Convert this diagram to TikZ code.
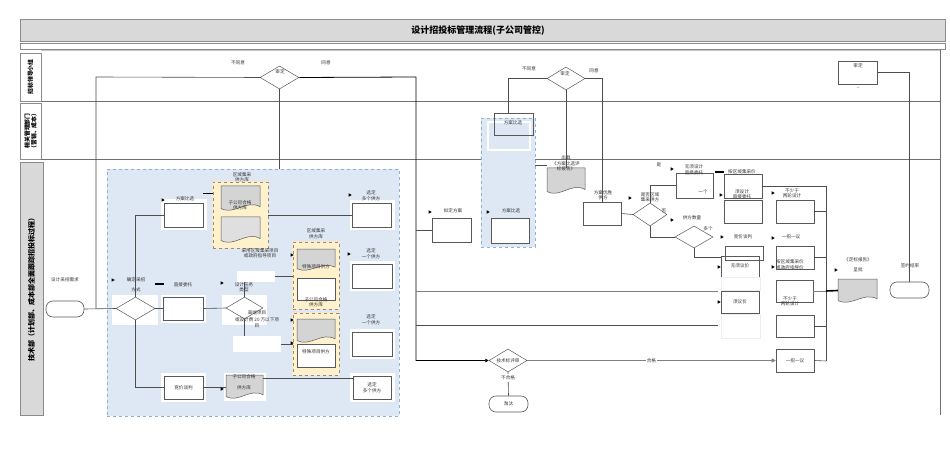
\documentclass[tikz,border=0pt]{standalone}
\usepackage{fontspec}
\newfontfamily\cjk{Noto Sans CJK SC}
\usetikzlibrary{calc,arrows.meta,shapes.geometric}
\definecolor{lanegray}{HTML}{D9D9D9}
\definecolor{framegray}{HTML}{8C8C8C}
\definecolor{blueA}{HTML}{DEE8F4}
\definecolor{blueB}{HTML}{8EAFD6}
\definecolor{yelA}{HTML}{FFF1CC}
\definecolor{docgray}{HTML}{D4D4D4}
\definecolor{lnc}{HTML}{4D4D4D}
\definecolor{boxc}{HTML}{595959}
\tikzset{
 conn/.style={draw=lnc, line width=0.6pt},
 boxst/.style={draw=boxc, line width=0.6pt, fill=white, inner sep=0, font=\cjk\fontsize{4.6}{5.5}\selectfont, align=center, text=black!80},
 lbl/.style={font=\cjk\fontsize{4.6}{5.5}\selectfont, inner sep=0, text=black!80, align=center},
 dia/.style={diamond, draw=boxc, line width=0.5pt, fill=white, inner sep=0},
 term/.style={draw=boxc, line width=0.6pt, fill=white, rounded corners=7pt, inner sep=0, font=\cjk\fontsize{4.6}{5.5}\selectfont, text=black!80},
 halo/.style={fill=white, draw=none, inner sep=0},
 bluearea/.style={draw=blueB, dashed, fill=blueA, line width=0.7pt, inner sep=0},
 grp/.style={draw=framegray, dashed, fill=yelA, line width=0.6pt, inner sep=0, preaction={draw=yelA!80!orange!70, line width=2.2pt, solid}},
 lanecell/.style={draw=framegray, fill=white, line width=0.6pt, inner sep=0},
 lanetxt/.style={font=\cjk\bfseries\fontsize{5.8}{6.8}\selectfont, inner sep=0, align=center, rotate=90},
 lanel/.style={draw=framegray!80!black, line width=0.6pt},
 lightbox/.style={draw=blueA!70, fill=white, line width=0.5pt, inner sep=0},
 blk/.style={fill=black, inner sep=0, minimum width=9, minimum height=1.8},
 mk/.pic={\fill[black] (-1.3,-1.7) -- (1.7,0) -- (-1.3,1.7) -- cycle;},
}
\newcommand\rnode[7][]{\node[#1, minimum width={#4-#2}, minimum height={#5-#3}] (#6) at ({(#2+#4)/2},{(#3+#5)/2}) {#7};}
\newcommand\docsh[6]{%
 \node[inner sep=0, minimum width={#4-#2}, minimum height={#5-#3}] (#1) at ({(#2+#4)/2},{(#3+#5)/2}) {};
 \filldraw[draw=boxc, line width=0.5pt, fill=#6] (#2,#3) -- (#4,#3) -- (#4,{#5-0.14*(#5-#3)}) .. controls ({#4-0.35*(#4-#2)},{#5-0.45*(#5-#3)}) and ({#2+0.35*(#4-#2)},{#5+0.22*(#5-#3)}) .. (#2,{#5-0.06*(#5-#3)}) -- cycle;}
\begin{document}
\begin{tikzpicture}[x=1pt,y=-1pt]
\useasboundingbox (0,0) rectangle (950,457);
\fill[white] (0,0) rectangle (950,457);
% ---------- frame ----------
\rnode[draw=framegray, fill=lanegray, line width=0.6pt, inner sep=0]{20}{19}{945}{41}{titlebar}{}
\node[font=\cjk\bfseries\fontsize{9}{10}\selectfont, inner sep=0] (title) at (478,30.5) {设计招投标管理流程(子公司管控)};
\rnode[draw=framegray, line width=0.5pt, inner sep=0]{20}{43}{945}{49}{subbar}{}
\rnode[lanecell]{20}{53}{41}{101}{c1}{}
\rnode[lanecell]{20}{103}{41}{159}{c2}{}
\rnode[lanecell, fill=lanegray]{20}{162}{43}{415}{c3}{}
\node[lanetxt] (c1t) at (c1) {招标领导小组};
\node[lanetxt] (c2t) at (c2) {相关管理部门\\（营销、成本）};
\node[lanetxt, font=\cjk\bfseries\fontsize{7}{8}\selectfont] (c3t) at (31.5,288) {技术部（计划部、成本部全面跟踪招投标过程）};
\draw[lanel, draw=framegray!50] (41,50) -- (940,50);
\draw[lanel] (41,101) -- (940,101);
\draw[lanel] (41,159) -- (940,159);
\draw[lanel] (940,50) -- (940,415);
% ---------- areas ----------
\rnode[bluearea]{107}{169}{399}{416}{ba1}{}
\rnode[bluearea]{481}{118}{535}{247}{ba2}{}
\rnode[draw=white, line width=1.3pt, inner sep=0]{488}{122}{530}{150}{ba2w}{}
\rnode[grp]{213}{182}{268}{248}{g1}{}
\rnode[grp]{293}{242}{339}{309}{g2}{}
\rnode[grp]{293}{313}{339}{375}{g3}{}
% halos
\rnode[halo]{112}{295}{158}{325}{hd3}{}
\rnode[halo]{161}{199}{207}{230}{hfa1}{}
\rnode[halo]{161}{295}{206}{323}{hzj}{}
\rnode[halo]{161}{373}{206}{402}{hjj}{}
\rnode[halo]{222}{295}{267}{325}{hd4}{}
\rnode[halo]{350}{200}{395}{230}{hx1}{}
\rnode[halo]{350}{261}{395}{291}{hx2}{}
\rnode[halo]{350}{329}{395}{359}{hx3}{}
\rnode[halo]{350}{373}{395}{402}{hx4}{}
\rnode[halo]{224}{373}{266}{401}{hdgf}{}
\rnode[halo]{237}{271}{275}{282}{w1}{}
\rnode[halo]{233}{336}{281}{352}{w2}{}
% ---------- shapes ----------
\node[dia, minimum width=39, minimum height=23] (d1) at (279.5,77.5) {};
\node[dia, minimum width=38, minimum height=23] (d2) at (566,78.5) {};
\rnode[boxst]{838}{61}{877}{84}{sd}{}
\rnode[boxst, fill=none]{494}{113}{533}{135}{bf2}{}
\rnode[term]{46}{301}{84}{317}{t0}{}
\node[dia, minimum width=39, minimum height=23] (d3) at (135.5,308.5) {};
\rnode[boxst]{164}{203}{203}{227}{fa1}{}
\rnode[boxst]{163}{297}{203}{320}{zj}{}
\rnode[boxst]{164}{376}{203}{399}{jj}{竞价谈判}
\node[dia, minimum width=37, minimum height=22] (d4) at (244.5,308) {};
\docsh{g1a}{221}{186}{260}{210}{docgray}
\docsh{g1b}{221}{217}{260}{242}{docgray!75}
\docsh{g2a}{297}{249}{335}{270}{docgray}
\rnode[boxst]{297}{278}{335}{300}{g2b}{}
\docsh{g3a}{297}{319}{335}{342}{docgray}
\rnode[boxst]{297}{344}{335}{367}{g3b}{}
\docsh{dgf}{226}{375}{263}{398}{docgray}
\rnode[boxst]{352}{203}{391}{227}{xd1}{}
\rnode[boxst]{352}{264}{392}{288}{xd2}{}
\rnode[boxst]{352}{332}{392}{356}{xd3}{}
\rnode[boxst]{353}{376}{391}{399}{xd4}{选定\\多个供方}
\rnode[boxst]{432}{218}{471}{242}{nd}{}
\rnode[boxst]{491}{218}{529}{243}{fa3}{}
\docsh{dbg1}{547}{168}{585}{193}{docgray}
\rnode[boxst]{583}{202}{621}{225}{ys}{}
\node[dia, minimum width=34, minimum height=23] (d5) at (650,214.5) {};
\rnode[boxst]{676}{173}{713}{198}{wx}{}
\rnode[boxst]{724}{174}{762}{198}{qy}{}
\rnode[boxst]{724}{200}{762}{223}{qy2}{}
\node[dia, minimum width=38, minimum height=22] (d6) at (694,237) {};
\rnode[boxst]{725}{246}{763}{260}{jj2}{}
\rnode[boxst, fill=none]{721}{256}{759}{277}{wy}{}
\rnode[lightbox]{721}{277}{760}{290}{lb1}{}
\rnode[boxst]{721}{291}{759}{313}{xy}{须议价}
\rnode[lightbox]{721}{314}{760}{338}{lb2}{}
\rnode[boxst]{776}{200}{814}{223}{ra}{}
\rnode[boxst]{776}{246}{814}{269}{rb}{}
\rnode[boxst]{776}{280}{813}{302}{rc}{}
\rnode[boxst]{776}{315}{814}{337}{rd}{}
\rnode[boxst]{776}{349}{814}{372}{re}{一招一议}
\docsh{dbg2}{838}{279}{877}{302}{docgray}
\rnode[term]{890}{282}{929}{298}{te}{}
\node[dia, minimum width=38, minimum height=23] (d7) at (508,360.5) {};
\rnode[term]{489}{396}{528}{412}{tt}{淘汰}
\node[blk] (dash1) at (159,284) {};
\node[blk] (dash2) at (719.5,172) {};
% ---------- coordinates ----------
\coordinate (vx) at (416,77);
\coordinate (h291a) at (416,291);
\coordinate (h291b) at (718,291);
\coordinate (h325a) at (416,325);
\coordinate (h325b) at (718,325);
\coordinate (c257) at (721,257);
\coordinate (colT) at (826,186);
\coordinate (colB) at (826,361);
\coordinate (c165) at (541,165);
% ---------- connectors ----------
\draw[conn] (d1.west) -- (96,77) coordinate (lp1) -- (lp1 |- t0.east);
\draw[conn, draw=black, line width=0.8pt, -{Triangle[length=3.5pt,width=3.5pt]}] (d1.east) -- (vx) -- (vx |- d7.west) -- (d7.west);
\draw[conn] (d1.south) -- (d1.south |- ba1.north);
\draw[conn] (t0.east) -- (d3.west);
\draw[conn] (d3.north) |- (fa1.west);
\draw[conn] (d3.south) |- (jj.west);
\draw[conn] (d3.east) -- (zj.west);
\draw[conn] (zj.east) -- (d4.west);
\draw[conn] (d4.north) -- (d4.north |- w1.south);
\draw[conn] (w1.east) -- (g2.west |- w1.east);
\draw[conn] (d4.south) -- (d4.south |- w2.north);
\draw[conn] (w2.east) -- (g3.west |- w2.east);
\path (fa1.east) ++(0,-22) coordinate (fa1t);
\draw[conn, draw=black, line width=0.9pt] (fa1t) -- (fa1t -| g1.west);
\draw[conn] (g1.east |- xd1.west) -- (xd1.west);
\draw[conn] (jj.east) -- (jj.east -| dgf.west);
\path (dgf.north east) ++(0,3) coordinate (dgft);
\draw[conn] (dgft) -- (dgft -| xd4.west);
\path (bf2.north) ++(-5.5,0) coordinate (bf2n);
\draw[conn] (d2.west) -| (bf2n);
\draw[conn] (d2.east) -| (ys.north);
\draw[conn] (d2.south) -- (dbg1.north);
\draw[conn] (c165 -| ba2.east) -- (c165 -| dbg1.west);
\draw[conn] (vx |- nd.west) -- (nd.west);
\draw[conn, draw=gray, line width=1pt] (h291a) -- (h291b);
\draw[conn, line width=0.7pt] (h325a) -- (h325b);
\draw[conn] (ys.east) -- (d5.west);
\draw[conn] (d5.north) |- (wx.west);
\draw[conn] (d5.south) |- (d6.west);
\draw[conn] (d6.south) |- (c257);
\draw[conn] (qy.east) -- (colT) -- (colB);
\draw[conn] (ra.east) -- (ra.east -| colT);
\draw[conn] (rb.east) -- (rb.east -| colT);
\draw[conn, draw=gray] (rc.east) -- (rc.east -| colT);
\draw[conn] (rd.east) -- (rd.east -| colT);
\draw[conn] (re.east) -- (colB);
\draw[conn, draw=black, line width=1.6pt] (rc.east -| colT) -- (dbg2.west);
\draw[conn] (sd.east) -| (te.north);
\draw[conn, draw=gray, -{Triangle[length=4pt,width=4pt]}] (d7.east) -- node[lbl, fill=white, inner xsep=1pt, pos=0.5] (hg) {合格} (re.west);
\draw[conn] (d7.south) -- node[lbl, fill=white, inner ysep=1.5pt, pos=0.25] (bhg) {不合格} (tt.north);
% ---------- labels ----------
\node[lbl] (l1) at (238,63) {不同意};
\node[lbl] (l2) at (326,63) {同意};
\node[lbl] (l3) at (280,71.5) {审定};
\node[lbl] (l4) at (529,69) {不同意};
\node[lbl] (l5) at (594,71) {同意};
\node[lbl] (l6) at (565,74) {审定};
\node[lbl] (l7) at (858,66) {审定};
\node[lbl] (l8) at (858,89) {–};
\node[lbl] (l9) at (513,123) {方案比选};
\node[lbl] (l10) at (65,280) {设计采招需求};
\node[lbl] (l11) at (136,284.5) {确定采招\\[4pt]方式};
\node[lbl] (l12) at (185,199) {方案比选};
\node[lbl] (l13) at (183,285) {直接委托};
\node[lbl] (l14) at (242,177.5) {区域集采\\供方库};
\node[lbl] (l15) at (240,205.5) {子公司合格\\供方库};
\node[lbl] (l16) at (260,253.5) {采用区域集采项目\\或政府指导项目};
\node[lbl] (l17) at (244,287) {设计任务\\类型};
\node[lbl, font=\cjk\fontsize{4.6}{6.4}\selectfont] (l18) at (257,319.5) {高端项目\\或设计费 20 万以下项\\目};
\node[lbl] (l19) at (316,234) {区域集采\\供方库};
\node[lbl] (l20) at (316,267) {特殊项目供方};
\node[lbl] (l21) at (316,302.5) {子公司合格\\供方库};
\node[lbl] (l22) at (316,351.5) {特殊项目供方};
\node[lbl] (l23) at (371,195.5) {选定\\多个供方};
\node[lbl] (l24) at (371,253.5) {选定\\一个供方};
\node[lbl] (l25) at (371,319.5) {选定\\一个供方};
\node[lbl] (l26) at (244,376.5) {子公司合格};
\node[lbl] (l27) at (244,388) {供方库};
\node[lbl] (l28) at (453,211) {拟定方案};
\node[lbl] (l29) at (511,211) {方案比选};
\node[lbl] (l30) at (566,163.5) {出具\\《方案比选评\\标报告》};
\node[lbl] (l31) at (603,195) {方案优胜\\供方};
\node[lbl] (l32) at (650,197.5) {是否区域\\集采供方};
\node[lbl] (l33) at (659,165) {是};
\node[lbl] (l34) at (694,170) {无须设计\\直接委托};
\node[lbl] (l35) at (703,192) {一个};
\node[lbl] (l36) at (742,171.5) {按区域集采价};
\node[lbl] (l37) at (742,194.5) {须设计\\直接委托};
\node[lbl] (l38) at (664,211) {否};
\node[lbl] (l39) at (692,218) {供方数量};
\node[lbl] (l40) at (708,229) {多个};
\node[lbl] (l41) at (743,237) {竞价谈判};
\node[lbl] (l42) at (740,266) {无须议价};
\node[lbl] (l43) at (792,193.5) {不少于\\两轮设计};
\node[lbl] (l44) at (791,237) {一招一议};
\node[lbl] (l45) at (790,265) {按区域集采价\\或政府指导价};
\node[lbl] (l46) at (790,301.5) {不少于\\两轮设计};
\node[lbl] (l47) at (858,260) {《定标报告》};
\node[lbl] (l48) at (858,270) {呈批};
\node[lbl] (l49) at (910,266) {签约结束};
\node[lbl] (l50) at (508,360.5) {技术标评审};
% ---------- markers ----------
\foreach \p in {(113,280),(163,200),(350,195),(222,283),(292,255),(349,254),(292,320),(292,343),(222,389),(430,212),(488,212),(630,198),(672,169),(721,195),(672,220),(722,237),(719,267),(719,302),(773,193),(773,238),(773,267),(836,270)}
  \pic at \p {mk};
\end{tikzpicture}
\end{document}
